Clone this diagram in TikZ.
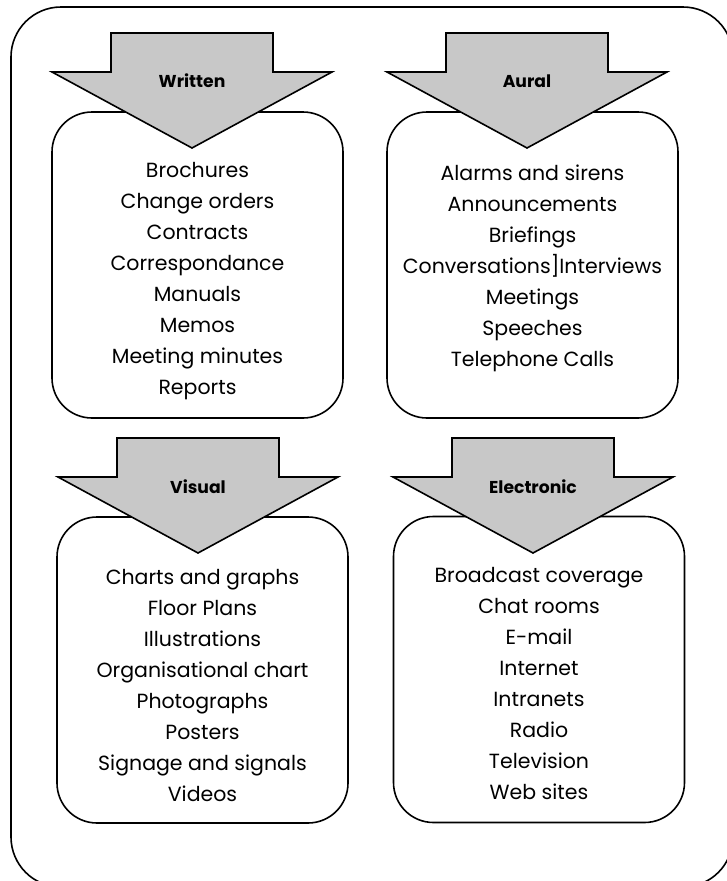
\documentclass[tikz,border=0pt]{standalone}
\usepackage{fontspec}
\setmainfont{Poppins}
\usepackage{tikz}
\usetikzlibrary{positioning}
\definecolor{arrowfill}{RGB}{200,200,200}

\tikzset{
  listbox/.style={draw, line width=1.6pt, rounded corners=40pt,
    minimum width=291pt, minimum height=306pt, inner sep=0pt},
  listtext/.style={align=center, font=\fontsize{20.5}{31}\selectfont},
  headtext/.style={font=\fontsize{17.2}{19}\selectfont\bfseries},
  downarrow/.pic={
    \draw[fill=arrowfill, line width=1.6pt, line join=miter]
      (0,0) -- (-140,-76) -- (-81,-76) -- (-81,-115)
      -- (81,-115) -- (81,-76) -- (140,-76) -- cycle;
  }
}

\begin{document}
\begin{tikzpicture}[x=1pt, y=-1pt]
  \useasboundingbox (0,0) rectangle (727,881);
  % outer frame
  \draw[line width=1.6pt, rounded corners=50pt] (11,7) rectangle (733,887);
  % boxes
  \node[listbox] (written) at (197.5,265) {};
  \node[listbox] (aural) at (532.5,265) {};
  \node[listbox] (visual) at (202.5,670) {};
  \node[listbox] (electronic) at (539,669.5) {};
  % arrows with headings
  \pic at (192,148) {downarrow};
  \node[headtext] (writtenhead) at (192,81) {Written};
  \pic at (527,148) {downarrow};
  \node[headtext] (auralhead) at (527,81) {Aural};
  \pic at (198,553) {downarrow};
  \node[headtext] (visualhead) at (198,487) {Visual};
  \pic at (533,553) {downarrow};
  \node[headtext] (electronichead) at (533,487) {Electronic};
  % lists
  \node[listtext] (writtenlist) at (197.5,281) {Brochures\\Change orders\\Contracts\\
    Correspondance\\Manuals\\Memos\\Meeting minutes\\Reports};
  \node[listtext] (aurallist) at (532.5,268) {Alarms and sirens\\Announcements\\
    Briefings\\Conversations]Interviews\\Meetings\\Speeches\\Telephone Calls};
  \node[listtext] (visuallist) at (202.5,685) {Charts and graphs\\Floor Plans\\
    Illustrations\\Organisational chart\\Photographs\\Posters\\
    Signage and signals\\Videos};
  \node[listtext] (electroniclist) at (539,683) {Broadcast coverage\\Chat rooms\\
    E-mail\\Internet\\Intranets\\Radio\\Television\\Web sites};
\end{tikzpicture}
\end{document}
